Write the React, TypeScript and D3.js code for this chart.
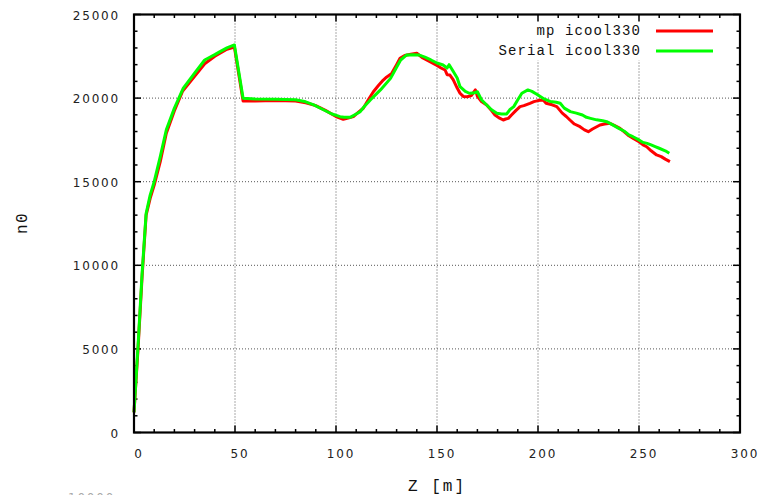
import React from "react";
import * as d3 from "d3";

const zMp = [0, 2, 4, 6, 8, 10, 13, 16, 20, 24, 30, 35, 40, 46, 49.7, 54, 60, 70, 80, 85, 90, 95, 100, 103.6, 106, 108.6, 111, 113.5, 116, 118.5, 121, 123.4, 125, 127.6, 130, 131.7, 134, 137, 140, 143, 146.5, 150, 152, 154, 155, 156.4, 158, 160, 161.4, 163, 165, 167, 169, 170, 172, 174.6, 177, 178.7, 181, 182.8, 184, 185.3, 187, 189, 191.1, 193, 196, 198, 200, 202.6, 204, 207, 209.3, 212, 214, 215.8, 218, 220.8, 223, 224.9, 227, 230.7, 233, 235.6, 238, 240.6, 243, 245, 247.2, 250, 252, 253.8, 256, 258.7, 261, 263, 265.3];
const nMp = [1200, 5000, 9300, 13000, 14000, 14800, 16200, 17900, 19250, 20400, 21300, 22050, 22500, 22920, 23050, 19830, 19830, 19850, 19830, 19720, 19550, 19250, 18900, 18730, 18800, 18890, 19150, 19390, 19900, 20380, 20750, 21080, 21250, 21480, 22000, 22380, 22550, 22620, 22680, 22400, 22180, 21950, 21800, 21680, 21400, 21380, 21100, 20600, 20290, 20100, 20080, 20150, 20490, 20100, 19800, 19590, 19250, 18990, 18800, 18690, 18750, 18790, 19000, 19250, 19490, 19550, 19690, 19790, 19850, 19890, 19690, 19600, 19490, 19100, 18900, 18690, 18450, 18290, 18100, 17990, 18150, 18390, 18450, 18490, 18350, 18190, 17950, 17750, 17590, 17400, 17200, 17090, 16850, 16600, 16500, 16350, 16200];

const zSerial = [0, 2, 4, 6, 8, 10, 13, 16, 20, 24.4, 30, 35, 40, 42.6, 46, 49.7, 54, 60, 70, 80, 85, 89, 94, 98, 102, 104, 107, 110, 112, 114, 117, 122, 127, 130, 132, 135, 138, 141, 144, 147, 150, 153, 155, 156, 158, 160, 161.4, 164, 166, 168, 170, 172, 174.6, 177, 179.6, 182, 184.5, 186, 188, 190, 192, 195, 197, 200, 203, 206, 209, 211, 213, 216, 219, 222, 224, 226, 229, 232, 234, 237, 240, 243, 245, 247, 250, 252, 254, 256, 258, 260, 263, 265];
const nSerial = [1200, 5200, 9500, 13100, 14200, 15000, 16500, 18100, 19400, 20590, 21500, 22280, 22600, 22780, 23000, 23180, 19990, 19950, 19930, 19900, 19780, 19590, 19290, 19050, 18890, 18850, 18850, 19050, 19190, 19500, 19890, 20490, 21180, 21850, 22280, 22580, 22600, 22580, 22450, 22280, 22100, 21980, 21800, 22000, 21600, 21200, 20680, 20400, 20290, 20300, 20380, 19900, 19590, 19300, 19090, 19050, 19050, 19300, 19490, 19900, 20290, 20490, 20400, 20190, 19950, 19800, 19750, 19690, 19400, 19190, 19100, 18990, 18850, 18790, 18700, 18650, 18590, 18400, 18190, 18000, 17800, 17690, 17500, 17350, 17290, 17200, 17100, 17000, 16850, 16700];

const xTicks = [0, 50, 100, 150, 200, 250, 300];
const yTicks = [0, 5000, 10000, 15000, 20000, 25000];
const seriesNames = ["mp icool330", "Serial icool330"];
const seriesColors = ["#ff0000", "#00ff00"];
const xTitle = "Z [m]";
const yTitle = "n0";

const L = 134, R = 740, T = 14.5, B = 432.5;

export default function App() {
  const x = d3.scaleLinear().domain([0, 300]).range([L, R]);
  const y = d3.scaleLinear().domain([0, 25000]).range([B, T]);
  const line = d3.line<[number, number]>().x(d => x(d[0])).y(d => y(d[1]));
  const mpPts = zMp.map((z, i) => [z, nMp[i]] as [number, number]);
  const serPts = zSerial.map((z, i) => [z, nSerial[i]] as [number, number]);
  const xMinor = d3.range(0, 301, 10);
  const yMinor = d3.range(0, 25001, 1000);
  const tickFont = { fontFamily: "DejaVu Sans", fontSize: 12, letterSpacing: 1.8, fill: "#222" } as const;
  const monoFont = { fontFamily: "Liberation Mono", fill: "#111" } as const;

  return (
    <svg width={760} height={495} style={{ position: "absolute", left: 0, top: 0, background: "#fff" }}>
      <rect x={0} y={0} width={760} height={495} fill="#fff" />
      {/* grid */}
      {xTicks.filter(t => t > 0 && t < 300).map(t => (
        <line key={"gx" + t} x1={x(t)} x2={x(t)} y1={B} y2={T} stroke="#555" strokeWidth={1} strokeDasharray="1,2" />
      ))}
      {yTicks.filter(t => t > 0 && t < 25000).map(t => (
        <line key={"gy" + t} x1={L} x2={R} y1={y(t)} y2={y(t)} stroke="#555" strokeWidth={1} strokeDasharray="1,2" />
      ))}
      {/* opaque key */}
      <rect x={490} y={T + 1} width={R - 491} height={45} fill="#fff" />
      {/* ticks */}
      {xMinor.map(t => {
        const major = t % 50 === 0;
        const len = major ? 7 : 3.5;
        return (
          <g key={"tx" + t}>
            <line x1={x(t)} x2={x(t)} y1={B} y2={B - len} stroke="#000" strokeWidth={1.5} />
            <line x1={x(t)} x2={x(t)} y1={T} y2={T + len} stroke="#000" strokeWidth={1.5} />
          </g>
        );
      })}
      {yMinor.map(t => {
        const major = t % 5000 === 0;
        const len = major ? 7 : 3.5;
        return (
          <g key={"ty" + t}>
            <line x1={L} x2={L + len} y1={y(t)} y2={y(t)} stroke="#000" strokeWidth={1.5} />
            <line x1={R} x2={R - len} y1={y(t)} y2={y(t)} stroke="#000" strokeWidth={1.5} />
          </g>
        );
      })}
      {/* data */}
      <path d={line(mpPts) || ""} fill="none" stroke={seriesColors[0]} strokeWidth={3} strokeLinejoin="round" />
      <path d={line(serPts) || ""} fill="none" stroke={seriesColors[1]} strokeWidth={3} strokeLinejoin="round" />
      {/* frame */}
      <rect x={L} y={T} width={R - L} height={B - T} fill="none" stroke="#000" strokeWidth={2.2} />
      {/* tick labels */}
      {xTicks.map(t => (
        <text key={"lx" + t} x={x(t) + 5} y={458} textAnchor="middle" {...tickFont}>{t}</text>
      ))}
      {yTicks.map(t => (
        <text key={"ly" + t} x={120} y={y(t) + 5} textAnchor="end" {...tickFont}>{t}</text>
      ))}
      {/* axis titles */}
      <text x={437} y={491} textAnchor="middle" fontSize={16} letterSpacing={2} {...monoFont}>{xTitle}</text>
      <text transform="translate(27,223) rotate(-90)" textAnchor="middle" fontSize={16} letterSpacing={1.5} {...monoFont}>{yTitle}</text>
      {/* legend */}
      {seriesNames.map((n, i) => (
        <g key={"lg" + i}>
          <text x={641} y={35 + i * 20} textAnchor="end" fontSize={14} letterSpacing={1.1} {...monoFont}>{n}</text>
          <line x1={656} x2={713} y1={31 + i * 20} y2={31 + i * 20} stroke={seriesColors[i]} strokeWidth={3} />
        </g>
      ))}
      {/* faint clipped label at bottom */}
      <text x={68} y={502} {...tickFont} fill="#aaa">10000</text>
    </svg>
  );
}
